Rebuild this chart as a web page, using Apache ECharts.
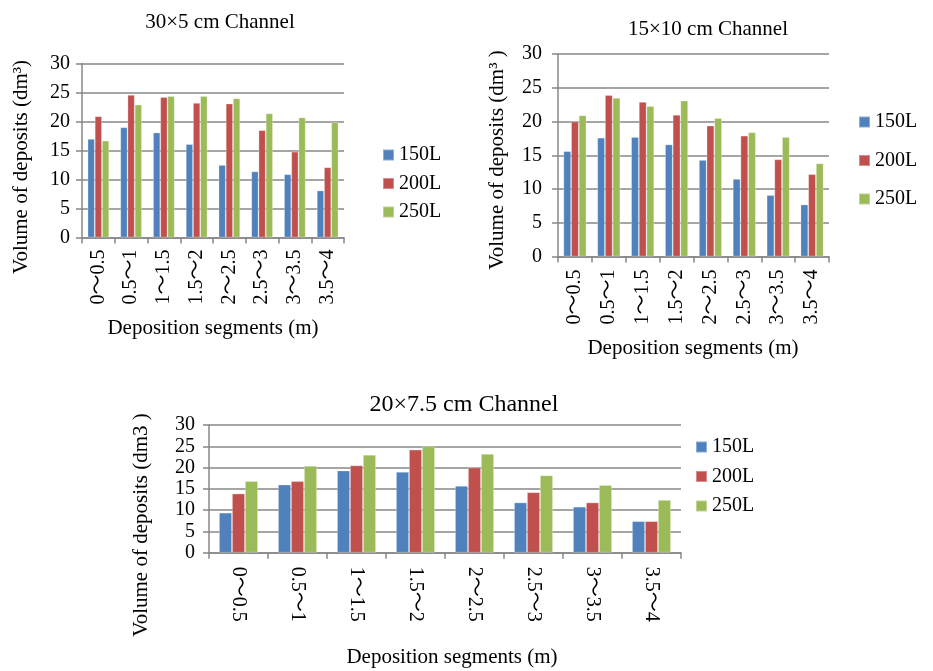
<!DOCTYPE html>
<html>
<head>
<meta charset="utf-8">
<script src="https://cdn.jsdelivr.net/npm/echarts@6/dist/echarts.min.js"></script>
<style>
  html, body { margin: 0; padding: 0; background: #fff; }
  #chart { width: 933px; height: 671px; }
</style>
</head>
<body>
<div id="chart"></div>
<script>
// Deposition segments along the channel (m)
const segments = ['0～0.5', '0.5～1', '1～1.5', '1.5～2', '2～2.5', '2.5～3', '3～3.5', '3.5～4'];
const flowNames = ['150L', '200L', '250L'];
const yTicks = { min: 0, max: 30, step: 5 };

// 30×5 cm channel, volume of deposits (dm³)
const ch30x5_150 = [17.0, 19.0, 18.1, 16.1, 12.5, 11.4, 10.9, 8.1];
const ch30x5_200 = [20.9, 24.6, 24.2, 23.2, 23.1, 18.5, 14.8, 12.1];
const ch30x5_250 = [16.7, 22.9, 24.4, 24.4, 24.0, 21.4, 20.7, 19.9];

// 15×10 cm channel
const ch15x10_150 = [15.6, 17.6, 17.7, 16.6, 14.3, 11.5, 9.1, 7.7];
const ch15x10_200 = [20.0, 23.9, 22.9, 21.0, 19.4, 17.9, 14.4, 12.2];
const ch15x10_250 = [20.9, 23.5, 22.3, 23.1, 20.5, 18.4, 17.7, 13.8];

// 20×7.5 cm channel
const ch20x75_150 = [9.4, 16.0, 19.3, 19.0, 15.7, 11.8, 10.8, 7.4];
const ch20x75_200 = [13.9, 16.8, 20.5, 24.2, 20.0, 14.2, 11.8, 7.4];
const ch20x75_250 = [16.8, 20.4, 23.0, 25.0, 23.2, 18.2, 15.9, 12.4];

const panelTitles = ['30×5 cm Channel', '15×10 cm Channel', '20×7.5 cm Channel'];
const yNames = ['Volume of deposits (dm³)', 'Volume of deposits (dm³ )', 'Volume of deposits (dm3 )'];
const xName = 'Deposition segments (m)';

const FONT = "'Liberation Serif', 'Times New Roman', 'Noto Sans CJK SC', serif";
const COLORS = ['#4F81BD', '#C0504D', '#9BBB59'];
const GRID_GREY = '#878787';

const panels = [
  { data: [ch30x5_150, ch30x5_200, ch30x5_250],
    grid: { left: 82, top: 63.5, width: 262, height: 174 },
    rotate: 90, labelMargin: 12, yMargin: 12, catGap: '34%',
    title: { x: 215, y: 7, size: 21 },
    yName: { x: 21, y: 167 }, xName: { x: 213, y: 328 },
    legend: { left: 382, top: 145, gap: 8.5 } },
  { data: [ch15x10_150, ch15x10_200, ch15x10_250],
    grid: { left: 558, top: 54, width: 271, height: 202.5 },
    rotate: 90, labelMargin: 13, yMargin: 16, catGap: '32%',
    title: { x: 703, y: 14, size: 21 },
    yName: { x: 497, y: 160 }, xName: { x: 693, y: 348 },
    legend: { left: 858, top: 112, gap: 18.5 } },
  { data: [ch20x75_150, ch20x75_200, ch20x75_250],
    grid: { left: 209, top: 425, width: 472, height: 127.7 },
    rotate: -90, labelMargin: 14, yMargin: 14, catGap: '34%',
    title: { x: 459, y: 388, size: 24 },
    yName: { x: 141, y: 525 }, xName: { x: 452, y: 657 },
    legend: { left: 695, top: 437, gap: 9.5 } }
];

const option = {
  animation: false,
  color: COLORS,
  title: [], grid: [], xAxis: [], yAxis: [], legend: [], series: [], graphic: []
};

panels.forEach((p, i) => {
  option.title.push({
    text: panelTitles[i], left: p.title.x, top: p.title.y, textAlign: 'center',
    textStyle: { fontFamily: FONT, fontSize: p.title.size, fontWeight: 'normal', color: '#000' }
  });
  option.grid.push(Object.assign({ containLabel: false }, p.grid));
  option.xAxis.push({
    type: 'category', gridIndex: i, data: segments,
    axisLine: { show: true, lineStyle: { color: GRID_GREY, width: 1.5 } },
    axisTick: { show: true, length: 6, lineStyle: { color: GRID_GREY, width: 1.5 } },
    axisLabel: { rotate: p.rotate, margin: p.labelMargin, interval: 0,
      fontFamily: FONT, fontSize: 20, color: '#000' },
    splitLine: { show: false }
  });
  option.yAxis.push({
    type: 'value', gridIndex: i, min: yTicks.min, max: yTicks.max, interval: yTicks.step,
    axisLine: { show: true, lineStyle: { color: GRID_GREY, width: 1.5 } },
    axisTick: { show: true, length: 6, lineStyle: { color: GRID_GREY, width: 1.5 } },
    axisLabel: { margin: p.yMargin, fontFamily: FONT, fontSize: 20, color: '#000' },
    splitLine: { show: true, lineStyle: { color: GRID_GREY, width: 1.5 } }
  });
  option.legend.push({
    orient: 'vertical', left: p.legend.left, top: p.legend.top, itemGap: p.legend.gap,
    itemWidth: 11, itemHeight: 11, icon: 'rect', padding: 0,
    data: flowNames,
    textStyle: { fontFamily: FONT, fontSize: 20, lineHeight: 20, color: '#000' }
  });
  p.data.forEach((vals, k) => {
    option.series.push({
      type: 'bar', name: flowNames[k], xAxisIndex: i, yAxisIndex: i,
      data: vals, barGap: '0%', barCategoryGap: p.catGap,
      itemStyle: { color: COLORS[k], borderColor: 'rgba(255,255,255,0.35)', borderWidth: 0.8 }
    });
  });
  option.graphic.push({
    type: 'text', x: p.yName.x, y: p.yName.y, rotation: Math.PI / 2,
    style: { text: yNames[i], font: '21px ' + FONT, fill: '#000',
      textAlign: 'center', textVerticalAlign: 'middle', align: 'center', verticalAlign: 'middle' }
  });
  option.graphic.push({
    type: 'text', x: p.xName.x, y: p.xName.y,
    style: { text: xName, font: '21px ' + FONT, fill: '#000',
      textAlign: 'center', textVerticalAlign: 'middle', align: 'center', verticalAlign: 'middle' }
  });
});

const chart = echarts.init(document.getElementById('chart'), null, { renderer: 'canvas' });
chart.setOption(option);
</script>
</body>
</html>
